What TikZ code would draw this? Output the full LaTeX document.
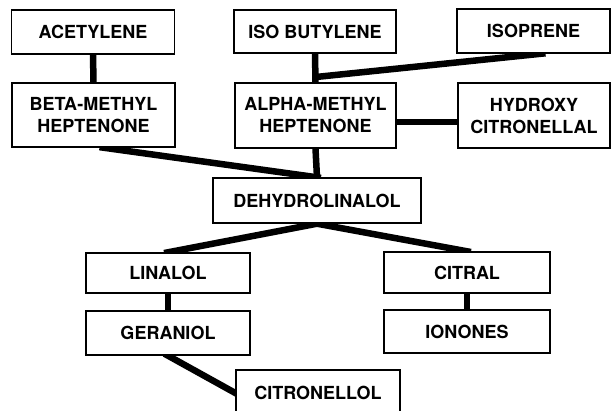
\documentclass[tikz,border=0pt]{standalone}
\usepackage{fontspec}
\setmainfont{TeX Gyre Heros}
\usetikzlibrary{backgrounds}
\begin{document}
\begin{tikzpicture}[x=1pt,y=-1pt,
  box/.style={draw, line width=1.4pt, fill=white, inner sep=0pt, align=center,
    font=\bfseries\fontsize{18}{22}\selectfont},
  link/.style={line width=6.5pt, shorten <=-4pt, shorten >=-4pt}]
\clip (0,0) rectangle (611,411);
\useasboundingbox (0,0) rectangle (611,411);
% boxes
\node[box, minimum width=163pt, minimum height=44pt] (acet) at (93,32) {ACETYLENE};
\node[box, minimum width=163pt, minimum height=64pt] (beta) at (93.5,115) {BETA-METHYL\\HEPTENONE};
\node[box, minimum width=162pt, minimum height=43pt] (isob) at (315,31.5) {ISO BUTYLENE};
\node[box, minimum width=161pt, minimum height=65pt] (alpha) at (315.5,115.5) {ALPHA-METHYL\\HEPTENONE};
\node[box, minimum width=153pt, minimum height=44pt] (isop) at (533.5,31) {ISOPRENE};
\node[box, minimum width=152pt, minimum height=65pt] (hydr) at (534,115.5) {HYDROXY\\CITRONELLAL};
\node[box, minimum width=208pt, minimum height=45pt] (dehy) at (317,200.5) {DEHYDROLINALOL};
\node[box, minimum width=164pt, minimum height=40pt] (lin) at (168,273) {LINALOL};
\node[box, minimum width=164pt, minimum height=44pt] (ger) at (168,333) {GERANIOL};
\node[box, minimum width=166pt, minimum height=41pt] (citral) at (467,272.5) {CITRAL};
\node[box, minimum width=166pt, minimum height=43pt] (ion) at (467,331.5) {IONONES};
\node[box, minimum width=164pt, minimum height=46pt] (citro) at (318,393) {CITRONELLOL};
\coordinate (j) at (316,77);
% connectors
\begin{scope}[on background layer]
\fill[white] (0,0) rectangle (611,411);
\draw[link] (acet.south) -- (beta.north);
\draw[link] (isob.south) -- (alpha.north);
\draw[link, shorten >=-2pt] ([xshift=8pt]isop.south) -- (j);
\draw[link] ([yshift=-6.5pt]alpha.east) -- ([yshift=-6.5pt]hydr.west);
\draw[link] ([xshift=10pt]beta.south) -- (dehy.north);
\draw[link] (alpha.south) -- (dehy.north);
\draw[link] (dehy.south) -- (lin.north);
\draw[link] (dehy.south) -- (citral.north);
\draw[link] (lin.south) -- (ger.north);
\draw[link] (citral.south) -- (ion.north);
\draw[link] (ger.south) -- (citro.west);
\end{scope}
\end{tikzpicture}
\end{document}
